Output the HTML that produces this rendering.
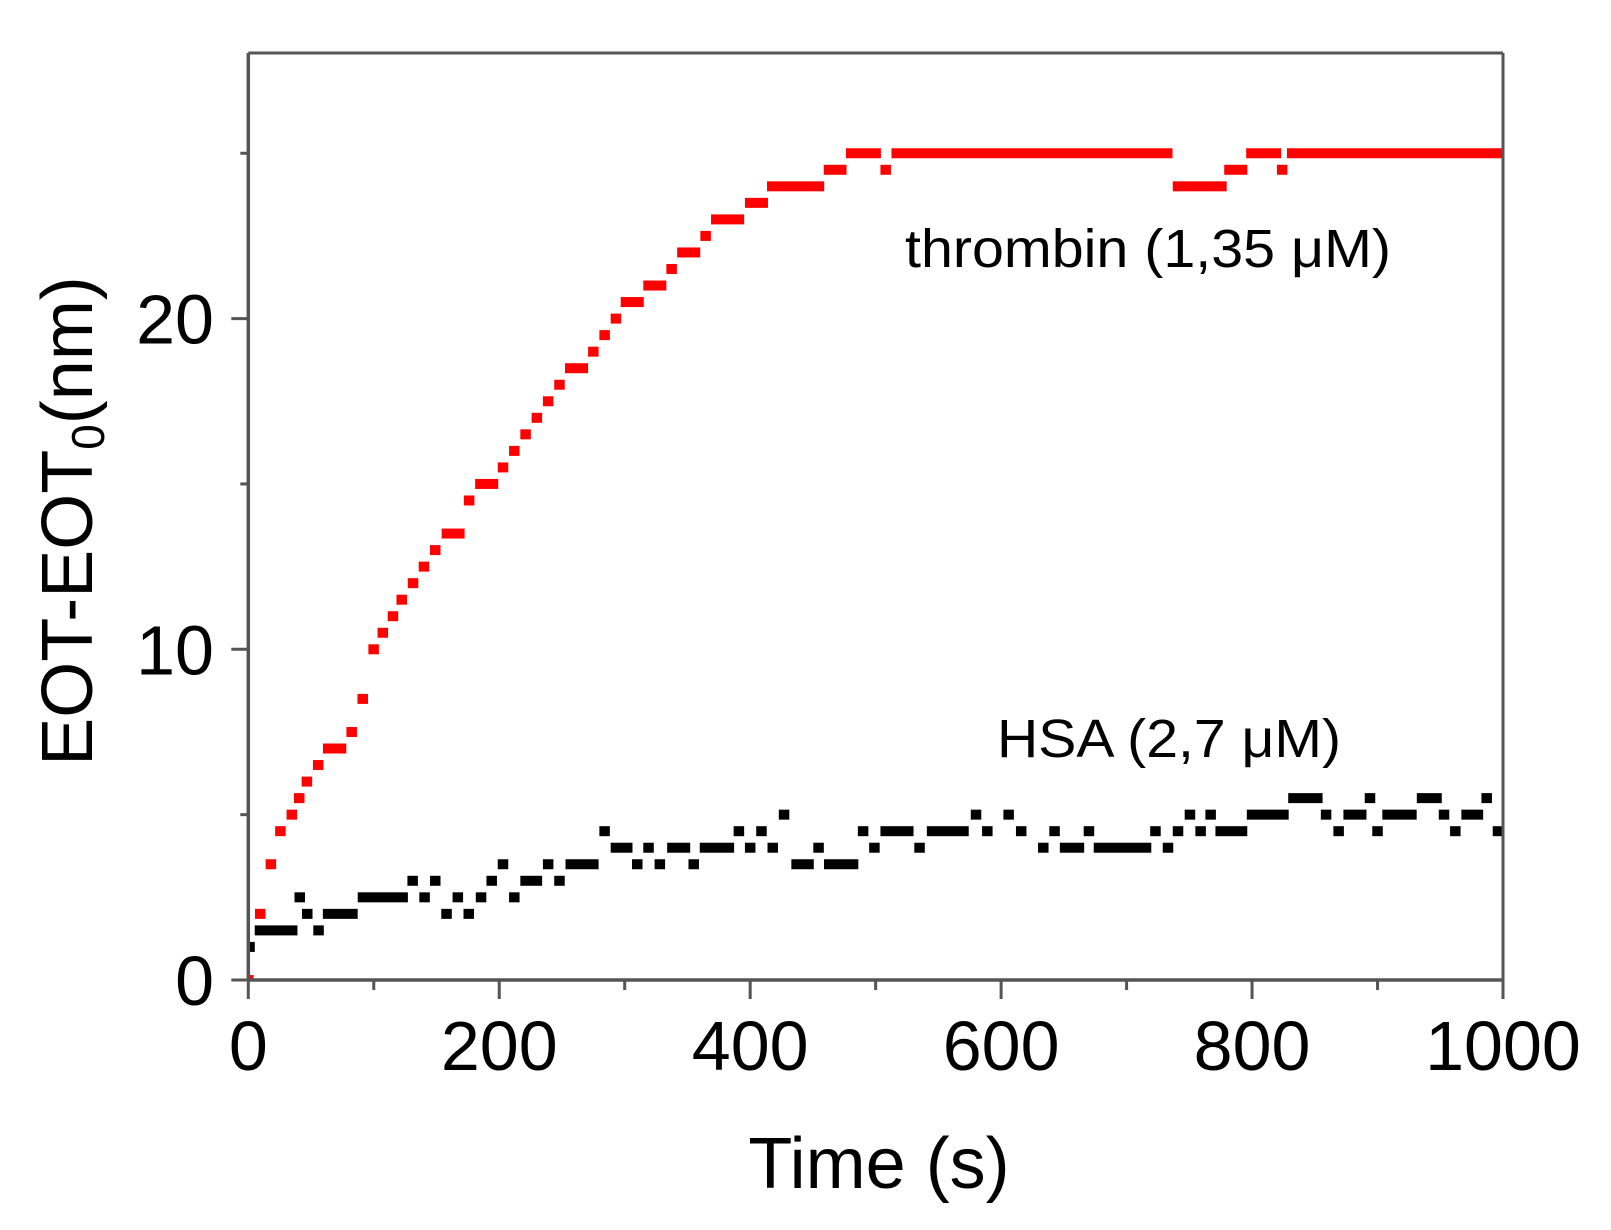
<!DOCTYPE html>
<html>
<head>
<meta charset="utf-8">
<style>
  html,body{margin:0;padding:0;background:#fff;}
  svg{display:block;font-family:"Liberation Sans",Arial,sans-serif;}
</style>
</head>
<body>
<svg id="chart" width="1611" height="1230" viewBox="0 0 1611 1230" xmlns="http://www.w3.org/2000/svg">
  <rect x="0" y="0" width="1611" height="1230" fill="#fff"/>
  <defs>
    <clipPath id="plotclip"><rect x="248" y="53" width="1256" height="928"/></clipPath>
  </defs>
  <g id="marks" clip-path="url(#plotclip)"></g>
  <g id="axes"></g>
  <text transform="translate(92,521) rotate(-90)" text-anchor="middle" font-size="72" fill="#000">EOT-EOT<tspan font-size="46" dy="12">0</tspan><tspan dy="-12">(nm)</tspan></text>
  <text x="879" y="1188" text-anchor="middle" font-size="72" fill="#000">Time (s)</text>
  <text x="905" y="267" font-size="54" fill="#000" textLength="486" lengthAdjust="spacingAndGlyphs">thrombin (1,35 μM)</text>
  <text x="997" y="757" font-size="54" fill="#000" textLength="344" lengthAdjust="spacingAndGlyphs">HSA (2,7 μM)</text>
</svg>
<script>
// ---- data (runs of identical readings: start time, end time, value) ----
const xTicks = [0, 200, 400, 600, 800, 1000];
const xMinorTicks = [100, 300, 500, 700, 900];
const yTicks = [0, 10, 20];
const yMinorTicks = [5, 15, 25];
const xTickLabels = ["0", "200", "400", "600", "800", "1000"];
const yTickLabels = ["0", "10", "20"];

const thrombinStart = [0,9.5,18,25.6,34.7,40.6,46.7,55.7,63.7,82.4,91.2,99.9,107.2,115.3,122.3,131.3,140,149,158.3,176,185,203,212,221,230,239,248,256.6,275,284,293,301,319,337.4,346,364.5,373,400,417.6,462.8,480.5,508,516.8,741,782,799.5,824,832];
const thrombinEnd   = [0,9.5,18,25.6,34.7,40.6,46.7,55.7,73.9,82.4,91.2,99.9,107.2,115.3,122.3,131.3,140,149,168.2,176,195,203,212,221,230,239,248,266.6,275,284,293,311,329,337.4,356,364.5,391,410,454.8,472.6,500,508,732.4,775.6,792,819,824,996];
const thrombinValue = [0,2,3.5,4.5,5,5.5,6,6.5,7,7.5,8.5,10,10.5,11,11.5,12,12.5,13,13.5,14.5,15,15.5,16,16.5,17,17.5,18,18.5,19,19.5,20,20.5,21,21.5,22,22.5,23,23.5,24,24.5,25,24.5,25,24,24.5,25,24.5,25];

const hsaStart = [1,9.3,41,47,56,63.6,91.4,131,140.5,149,158,167,175.7,185.5,194,203,212,221,239,248,257,284,293,310,319,328,338,355,364,391,400,409,418,427,437,454.5,463,490,499,508,535,545,580,589,606,616,633.6,642.6,651,670,678,723,733,741,750.5,759,767,775,800,833,859,869,877,894,900,908,935.5,953,962,971,987,996];
const hsaEnd   = [1,35,41,47,56,83,123,131,140.5,149,158,167,175.7,185.5,194,203,212,230,239,248,275,284,302,310,319,328,348,355,383,391,400,409,418,427,446.5,454.5,482,490,499,526,535,570,580,589,606,616,633.6,642.6,662,670,715.5,723,733,741,750.5,759,767,792,825,852,859,869,887,894,900,927,947,953,962,980,987,996];
const hsaValue = [1,1.5,2.5,2,1.5,2,2.5,3,2.5,3,2,2.5,2,2.5,3,3.5,2.5,3,3.5,3,3.5,4.5,4,3.5,4,3.5,4,3.5,4,4.5,4,4.5,4,5,3.5,4,3.5,4.5,4,4.5,4,4.5,5,4.5,5,4.5,4,4.5,4,4.5,4,4.5,4,4.5,5,4.5,5,4.5,5,5.5,5,4.5,5,5.5,4.5,5,5.5,5,4.5,5,5.5,4.5];

// ---- scales ----
const X0 = 248.3, X1 = 1503, XMAX = 1000;
const Y0 = 980, PXPERNM = 33.07;
function xs(t){ return X0 + t * (X1 - X0) / XMAX; }
function ys(v){ return Y0 - v * PXPERNM; }

const NS = "http://www.w3.org/2000/svg";
const marks = document.getElementById('marks');
const axes = document.getElementById('axes');
const MW = 10.5, MH = 10;

function drawRuns(starts, ends, vals, color, name){
  const g = document.createElementNS(NS, 'g');
  
  
  for (let i = 0; i < vals.length; i++){
    const r = document.createElementNS(NS, 'rect');
    const xa = xs(starts[i]) - MW/2, xb = xs(ends[i]) + MW/2;
    r.setAttribute('x', xa.toFixed(2));
    r.setAttribute('y', (ys(vals[i]) - MH/2).toFixed(2));
    r.setAttribute('width', (xb - xa).toFixed(2));
    r.setAttribute('height', MH);
    r.setAttribute('fill', color);
    
    
    g.appendChild(r);
  }
  marks.appendChild(g);
}
drawRuns(hsaStart, hsaEnd, hsaValue, '#000', 'hsa-series');
drawRuns(thrombinStart, thrombinEnd, thrombinValue, '#ff0000', 'thrombin-series');

function line(x1,y1,x2,y2,w,name){
  const l = document.createElementNS(NS,'line');
  l.setAttribute('x1',x1); l.setAttribute('y1',y1);
  l.setAttribute('x2',x2); l.setAttribute('y2',y2);
  l.setAttribute('stroke','#555'); l.setAttribute('stroke-width',w);
  
  
  axes.appendChild(l);
}
function text(x,y,s,anchor,name){
  const t = document.createElementNS(NS,'text');
  t.setAttribute('x',x); t.setAttribute('y',y);
  t.setAttribute('text-anchor',anchor);
  t.setAttribute('font-size','70');
  t.setAttribute('fill','#000');
  t.textContent = s;
  
  
  axes.appendChild(t);
}
// frame
line(X0, 53, X1, 53, 3, 'top-axis');
line(X1, 53, X1, Y0, 3, 'right-axis');
line(X0, 53, X0, Y0, 3.5, 'y-axis-line');
line(X0, Y0, X1, Y0, 3.5, 'x-axis-line');
// x ticks
xTicks.forEach((t,i)=>{
  line(xs(t), Y0, xs(t), Y0+19, 3, 'x-tick');
  text(xs(t), 1070, xTickLabels[i], 'middle', 'x-tick-label');
});
xMinorTicks.forEach(t=>{ line(xs(t), Y0, xs(t), Y0+10, 3, 'x-minor-tick'); });
// y ticks
yTicks.forEach((v,i)=>{
  line(X0-17, ys(v), X0, ys(v), 3, 'y-tick');
  text(214, ys(v)+25, yTickLabels[i], 'end', 'y-tick-label');
});
yMinorTicks.forEach(v=>{ line(X0-8, ys(v), X0, ys(v), 3, 'y-minor-tick'); });
</script>
</body>
</html>
